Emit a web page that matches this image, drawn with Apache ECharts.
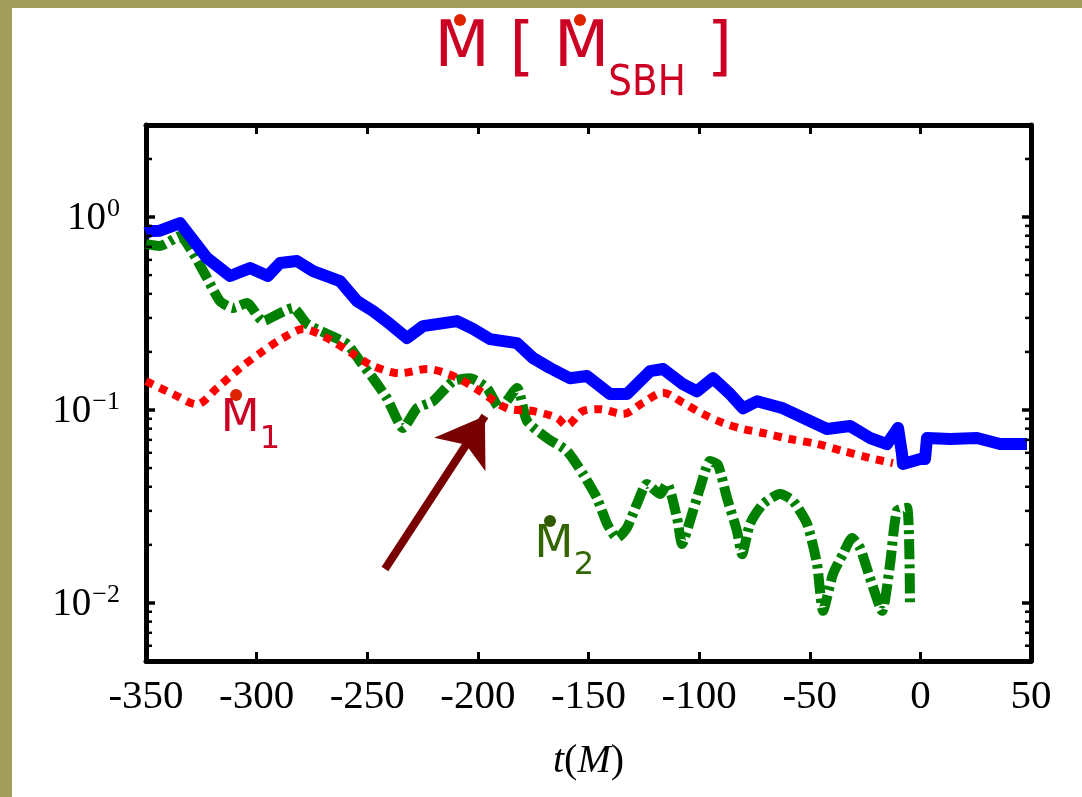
<!DOCTYPE html>
<html>
<head>
<meta charset="utf-8">
<script src="https://cdn.jsdelivr.net/npm/echarts@6/dist/echarts.min.js"></script>
<style>
html,body{margin:0;padding:0;background:#fff;}
#c{width:1082px;height:797px;}
</style>
</head>
<body>
<div id="c"></div>
<script>
// ---------- data ----------
const xMin = -350, xMax = 50, xStep = 50;
const yMin = 0.005, yMax = 3;
const yTickValues = [0.01, 0.1, 1];
const yTickLabels = ['{b|10}{s|\u22122}', '{b|10}{s|\u22121}', '{b|10}{s|0}'];
const yMinorTicks = [0.006,0.007,0.008,0.009,0.02,0.03,0.04,0.05,0.06,0.07,0.08,0.09,
                     0.2,0.3,0.4,0.5,0.6,0.7,0.8,0.9,2];

// total accretion rate (blue)
const blueT = [-350,-348,-343.7,-334.6,-322.4,-312,-303,-294.9,-289.4,-281.8,-274.5,-262.3,-254.6,-247.4,-239.7,-232,-224.8,-209.4,-202.2,-194.5,-182.3,-175.1,-167.4,-158.4,-150.7,-140.3,-132.6,-122.2,-116.3,-107.3,-101,-93.7,-86,-80.2,-73.8,-62.1,-49.9,-42.2,-31.8,-22.8,-15.1,-10.1,-8.3,-7.9,0,2.1,3,13.4,25.6,36,48.2];
const blueV = [0.826,0.846,0.85,0.931,0.613,0.495,0.544,0.495,0.578,0.592,0.525,0.466,0.367,0.326,0.279,0.236,0.272,0.289,0.263,0.233,0.222,0.186,0.165,0.146,0.150,0.121,0.121,0.159,0.163,0.136,0.125,0.146,0.121,0.102,0.111,0.102,0.0877,0.0797,0.0826,0.0716,0.0666,0.0807,0.0592,0.0525,0.0557,0.0557,0.0716,0.0707,0.0716,0.0666,0.0666];

// M1 (red dotted)
const redT = [-350,-337.8,-327,-317.9,-307.5,-297.1,-288.1,-279,-268.2,-256.4,-247.4,-235.2,-223,-211.2,-199,-186.8,-175.1,-164.2,-160,-152.5,-144.8,-134.4,-125.4,-116.3,-107.3,-98.2,-89.2,-80.2,-71.1,-58.9,-46.7,-35,-22.8,-12.4];
const redV = [0.141,0.121,0.107,0.130,0.165,0.202,0.236,0.263,0.236,0.195,0.169,0.155,0.163,0.150,0.125,0.102,0.0988,0.0909,0.083,0.0988,0.101,0.0953,0.109,0.123,0.109,0.0953,0.0857,0.0797,0.0760,0.0707,0.0666,0.0613,0.0564,0.0531];

// M2 (green dash-dot)
const greenT = [-350,-343.7,-334.6,-328.8,-322.4,-316.6,-310.7,-304.4,-297.1,-289.4,-283.6,-277.2,-268.2,-259.2,-253.3,-247.4,-241.1,-233.8,-227.5,-220.3,-211.2,-203.6,-195.9,-190,-182.3,-177.8,-168.8,-159.7,-152.5,-146.2,-141.6,-137.1,-132.6,-128.1,-123.6,-117.7,-114.5,-110,-107.7,-104.1,-99.6,-95.1,-91.5,-87.4,-82.9,-80.6,-77,-71.1,-63.4,-57.6,-51.2,-46.7,-44,-39.5,-35,-30.9,-27.3,-22.8,-17.3,-13.7,-10.6,-6,-4.7];
const greenV = [0.724,0.708,0.797,0.651,0.483,0.367,0.338,0.358,0.289,0.318,0.338,0.279,0.248,0.220,0.179,0.146,0.115,0.0807,0.102,0.111,0.141,0.146,0.130,0.102,0.130,0.0877,0.0716,0.0613,0.0466,0.0350,0.0257,0.0217,0.0245,0.0326,0.0414,0.0367,0.0414,0.0276,0.0202,0.0267,0.0394,0.0544,0.052,0.0350,0.0236,0.0179,0.0257,0.0326,0.0367,0.0338,0.0257,0.0159,0.0091,0.0141,0.0179,0.0217,0.0193,0.0135,0.0091,0.0159,0.0300,0.0311,0.0099];

// annotations (data coordinates)
const arrowFrom = [-242, 0.015];
const arrowTo = [-196.8, 0.0931];
const m1DotAt = [-309.3, 0.1196];
const m2DotAt = [-167.4, 0.0266];
const annotSubs = ['1', '2'];

// ---------- chart ----------
const zip = (a, b) => a.map((t, i) => [t, b[i]]);
const chart = echarts.init(document.getElementById('c'), null, {renderer: 'canvas'});

const axLine = {show: true, onZero: false, lineStyle: {color: '#000', width: 5}};
const tickX = {show: true, inside: true, length: 9, lineStyle: {color: '#000', width: 3}};
const tickY = {show: true, inside: true, length: 9, lineStyle: {color: '#000', width: 3.5}};
const serif = 'Liberation Serif';

function yFmt(v) {
  for (let i = 0; i < yTickValues.length; i++) {
    if (Math.abs(v - yTickValues[i]) / yTickValues[i] < 1e-6) return yTickLabels[i];
  }
  return '';
}

const option = {
  animation: false,
  backgroundColor: '#ffffff',
  grid: {left: 146, right: 51, top: 125, bottom: 136, containLabel: false},
  xAxis: [
    {
      type: 'value', min: xMin, max: xMax, interval: xStep, position: 'bottom',
      axisLine: axLine, axisTick: tickX, splitLine: {show: false},
      axisLabel: {fontFamily: serif, fontSize: 41, color: '#000', margin: 36,
                  verticalAlign: 'middle', formatter: v => String(v)},
      name: '{i|t}{r|(}{i|M}{r|)}', nameLocation: 'middle', nameGap: 80,
      nameTextStyle: {rich: {
        i: {fontFamily: serif, fontStyle: 'italic', fontSize: 40, color: '#000'},
        r: {fontFamily: serif, fontSize: 40, color: '#000'}
      }}
    },
    {
      type: 'value', min: xMin, max: xMax, interval: xStep, position: 'top',
      axisLine: axLine, axisTick: tickX, splitLine: {show: false}, axisLabel: {show: false}
    }
  ],
  yAxis: [
    {
      type: 'log', logBase: 10, min: yMin, max: yMax, position: 'left',
      axisLine: axLine, axisTick: tickY, splitLine: {show: false}, minorTick: {show: false},
      axisLabel: {
        formatter: yFmt, margin: 26, verticalAlign: 'middle', showMinLabel: false, showMaxLabel: false,
        rich: {
          b: {fontFamily: serif, fontSize: 39, color: '#000', verticalAlign: 'bottom'},
          s: {fontFamily: serif, fontSize: 26, color: '#000', verticalAlign: 'bottom', padding: [0, 0, 16, 1]}
        }
      }
    },
    {
      type: 'log', logBase: 10, min: yMin, max: yMax, position: 'right',
      axisLine: axLine, axisTick: tickY, splitLine: {show: false}, axisLabel: {show: false}
    }
  ],
  series: [
    {
      type: 'line', name: 'M2', data: zip(greenT, greenV), showSymbol: false, symbol: 'none',
      smooth: 0.2, z: 2,
      lineStyle: {color: '#008000', width: 10, type: [20, 5, 4, 5], cap: 'butt', join: 'round'}
    },
    {
      type: 'line', name: 'M1', data: zip(redT, redV), showSymbol: false, symbol: 'none',
      smooth: 0.3, z: 3,
      lineStyle: {color: '#ff0000', width: 8, type: [8, 7], cap: 'butt'},
      markLine: {
        silent: true, animation: false, symbol: ['none', 'arrow'], symbolSize: 46,
        label: {show: false}, emphasis: {disabled: true},
        lineStyle: {color: '#780000', width: 8, type: 'solid', opacity: 1},
        itemStyle: {color: '#780000'},
        data: [[{coord: arrowFrom}, {coord: arrowTo}]]
      }
    },
    {
      type: 'line', name: 'Mtot', data: zip(blueT, blueV), showSymbol: false, symbol: 'none',
      z: 4,
      lineStyle: {color: '#0000ff', width: 12, join: 'round', cap: 'butt'}
    },
    {
      type: 'custom', name: 'minorTicks', silent: true, z: 10, clip: false,
      data: yMinorTicks.map(v => [xMin, v]),
      renderItem: function (params, api) {
        const v = api.value(1);
        const pL = api.coord([xMin, v]);
        const pR = api.coord([xMax, v]);
        return {type: 'group', children: [
          {type: 'line', shape: {x1: pL[0], y1: pL[1], x2: pL[0] + 6, y2: pL[1]}, style: {stroke: '#000', lineWidth: 2.5}},
          {type: 'line', shape: {x1: pR[0], y1: pR[1], x2: pR[0] - 6, y2: pR[1]}, style: {stroke: '#000', lineWidth: 2.5}}
        ]};
      }
    }
  ]
};
chart.setOption(option);

// ---------- title, frame bands and labels ----------
const px = p => chart.convertToPixel({xAxisIndex: 0, yAxisIndex: 0}, p);
const titleRed = '#cc0022', dotRed = '#dd2200';
const font = (s) => s + 'px "DejaVu Sans"';

function txt(x, y, s, size, fill, sx) {
  return {type: 'text', x: x, y: y, scaleX: sx || 1, z: 100,
          style: {text: s, font: font(size), fill: fill, align: 'center', verticalAlign: 'middle'}};
}
function dot(cx, cy, fill) {
  return {type: 'circle', z: 101, shape: {cx: cx, cy: cy, r: 6}, style: {fill: fill}};
}
function dotLabel(anchor, sub, color, dcolor) {
  const p = px(anchor);
  return [
    dot(p[0], p[1], dcolor),
    txt(p[0] + 4, p[1] + 24, 'M', 45, color),
    txt(p[0] + 34, p[1] + 45, sub, 32, color)
  ];
}

const graphics = [
  {type: 'rect', z: 50, shape: {x: 0, y: 0, width: 1082, height: 8}, style: {fill: '#a39d5c'}},
  {type: 'rect', z: 50, shape: {x: 0, y: 0, width: 12, height: 797}, style: {fill: '#a39d5c'}},
  txt(462, 49, 'M', 64, titleRed), dot(460, 20, dotRed),
  txt(522, 51, '[', 64, titleRed),
  txt(581.5, 49, 'M', 64, titleRed), dot(580, 20, dotRed),
  txt(647, 84, 'SBH', 43, titleRed, 0.87),
  txt(719.5, 51, ']', 64, titleRed)
].concat(
  dotLabel(m1DotAt, annotSubs[0], '#cc0022', '#dd2200'),
  dotLabel(m2DotAt, annotSubs[1], '#336600', '#2f5a00')
);
chart.setOption({graphic: graphics});
</script>
</body>
</html>
